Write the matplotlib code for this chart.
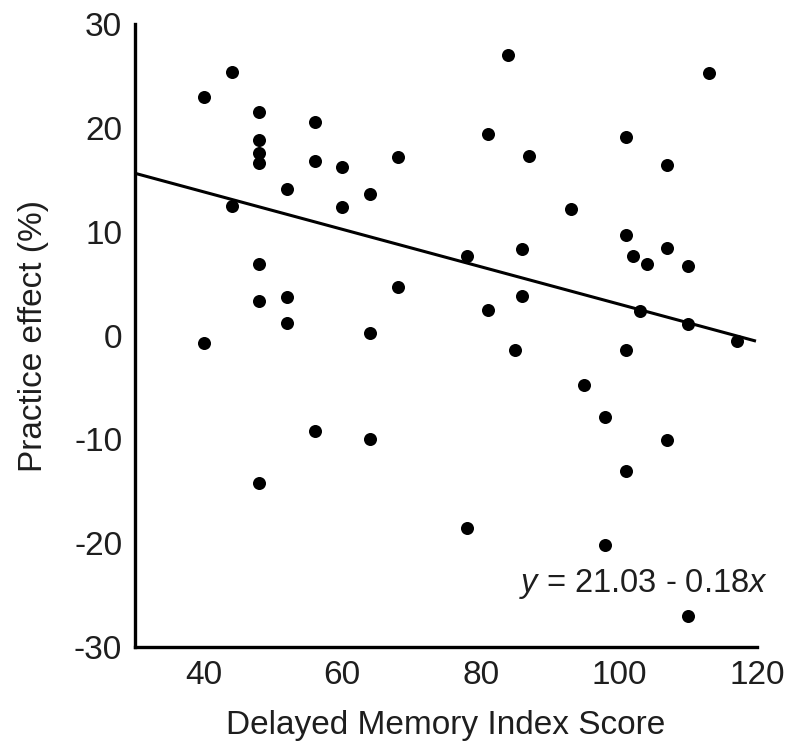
import matplotlib
matplotlib.use("Agg")
import matplotlib.pyplot as plt
import numpy as np

# Data
memory_score = [44, 40, 48, 56, 48, 48, 48, 56, 60, 68, 52, 64, 44, 60, 48, 68, 48, 52,
                52, 64, 40, 56, 64, 48,
                84, 113, 81, 101, 87, 107, 93, 101, 78, 86, 102, 104, 107, 110, 81, 86,
                103, 110, 117, 85, 101, 95, 98, 107, 101, 78, 98, 110]
practice_effect = [25.4, 23.0, 21.5, 20.6, 18.8, 17.6, 16.6, 16.8, 16.2, 17.2, 14.1, 13.6,
                   12.5, 12.4, 6.9, 4.7, 3.3, 3.7, 1.2, 0.2, -0.7, -9.2, -10.0, -14.2,
                   27.0, 25.3, 19.4, 19.1, 17.3, 16.4, 12.2, 9.7, 7.7, 8.3, 7.7, 6.9, 8.4,
                   6.7, 2.5, 3.8, 2.4, 1.1, -0.5, -1.4, -1.4, -4.8, -7.8, -10.1, -13.0,
                   -18.5, -20.2, -27.0]
intercept = 21.03
slope = -0.18
x_ticks = [40, 60, 80, 100, 120]
y_ticks = [-30, -20, -10, 0, 10, 20, 30]

plt.rcParams['font.family'] = ['Liberation Sans', 'DejaVu Sans']
plt.rcParams['axes.unicode_minus'] = False
plt.rcParams['mathtext.fontset'] = 'custom'
plt.rcParams['mathtext.rm'] = 'Liberation Sans'
plt.rcParams['mathtext.it'] = 'Liberation Sans:italic'

fig = plt.figure(figsize=(7.88, 7.49), dpi=100)
ax = fig.add_axes([0.171, 0.136, 0.790, 0.832])

ax.scatter(memory_score, practice_effect, s=88, color='black', zorder=3, linewidths=0)

xl = np.array([30, 119.6])
ax.plot(xl, intercept + slope * xl, color='black', lw=2.2, zorder=2)

ax.set_xlim(30, 120)
ax.set_ylim(-30, 30)
ax.set_xticks(x_ticks)
ax.set_yticks(y_ticks)
ax.tick_params(length=0, labelsize=24, colors='#1e1e1e')
ax.tick_params(axis='y', pad=9)
ax.tick_params(axis='x', pad=9)
for s in ['top', 'right']:
    ax.spines[s].set_visible(False)
for s in ['left', 'bottom']:
    ax.spines[s].set_linewidth(2.4)

ax.set_xlabel('Delayed Memory Index Score', fontsize=24, color='#1e1e1e', labelpad=14)
ax.set_ylabel('Practice effect (%)', fontsize=24, color='#1e1e1e', labelpad=18)

ax.text(85.6, -23.9, r'$\mathit{y}$ = 21.03 - 0.18$\mathit{x}$', fontsize=23.5, color='#1e1e1e',
        ha='left', va='center')

fig.savefig('out.png', dpi=100)
